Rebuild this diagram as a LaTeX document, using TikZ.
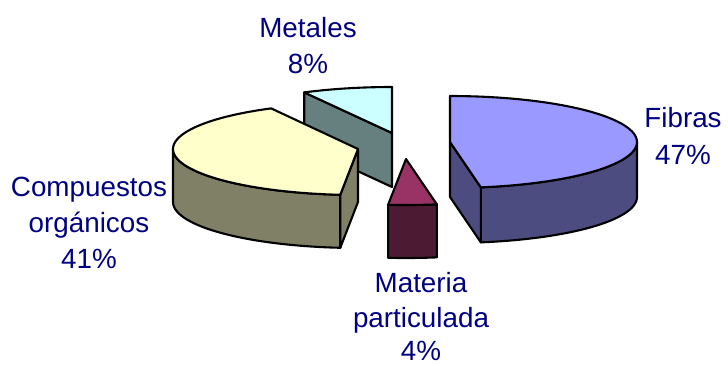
\documentclass[tikz,border=0pt]{standalone}
\usepackage{fontspec}
\setmainfont{Liberation Sans}
\definecolor{txtblue}{HTML}{000080}
\definecolor{fibT}{HTML}{9999FF}
\definecolor{fibS}{HTML}{4C4C80}
\definecolor{matT}{HTML}{993366}
\definecolor{matS}{HTML}{4D1A33}
\definecolor{comT}{HTML}{FFFFCC}
\definecolor{comS}{HTML}{808066}
\definecolor{metT}{HTML}{CCFFFF}
\definecolor{metS}{HTML}{668080}
\begin{document}
\begin{tikzpicture}[x=1pt,y=-1pt,
  face/.style={draw=black,line width=2.1pt,line join=round},
  lbl/.style={text=txtblue,anchor=base,inner sep=0pt,font=\fontsize{27.8}{36}\selectfont}]
\useasboundingbox (0,0) rectangle (728,365);
% ---------- Metales ----------
\def\cx{392}\def\cy{133}\def\rx{187}\def\ry{46}\def\dd{54}
\coordinate (metC) at (\cx,\cy);
\filldraw[face,fill=metS] ({\cx+\rx*cos(242)},{\cy+\ry*sin(242)}) -- (\cx,\cy) -- (\cx,\cy+\dd) -- ({\cx+\rx*cos(242)},{\cy+\dd+\ry*sin(242)}) -- cycle;
\filldraw[face,fill=metT] (\cx,\cy) -- plot[domain=242:270,samples=20] ({\cx+\rx*cos(\x)},{\cy+\ry*sin(\x)}) -- cycle;
% ---------- Compuestos organicos ----------
\def\cx{358}\def\cy{149}\def\rx{185}\def\ry{46}\def\dd{53}
\coordinate (comC) at (\cx,\cy);
\filldraw[face,fill=comS] plot[domain=95.5:180,samples=40] ({\cx+\rx*cos(\x)},{\cy+\ry*sin(\x)}) -- plot[domain=180:95.5,samples=40] ({\cx+\rx*cos(\x)},{\cy+\dd+\ry*sin(\x)}) -- cycle;
\filldraw[face,fill=comS] (\cx,\cy) -- ({\cx+\rx*cos(95.5)},{\cy+\ry*sin(95.5)}) -- ({\cx+\rx*cos(95.5)},{\cy+\dd+\ry*sin(95.5)}) -- (\cx,\cy+\dd) -- cycle;
\filldraw[face,fill=comT] (\cx,\cy) -- plot[domain=95.5:242,samples=60] ({\cx+\rx*cos(\x)},{\cy+\ry*sin(\x)}) -- cycle;
% ---------- Materia particulada ----------
\def\cx{406}\def\cy{159}\def\rx{187}\def\ry{46}\def\dd{53}
\coordinate (matC) at (\cx,\cy);
\filldraw[face,fill=matS] plot[domain=80.5:95.5,samples=10] ({\cx+\rx*cos(\x)},{\cy+\ry*sin(\x)}) -- plot[domain=95.5:80.5,samples=10] ({\cx+\rx*cos(\x)},{\cy+\dd+\ry*sin(\x)}) -- cycle;
\filldraw[face,fill=matT] (\cx,\cy) -- plot[domain=80.5:95.5,samples=10] ({\cx+\rx*cos(\x)},{\cy+\ry*sin(\x)}) -- cycle;
% ---------- Fibras ----------
\def\cx{450}\def\cy{142}\def\rx{187}\def\ry{46}\def\dd{55}
\coordinate (fibC) at (\cx,\cy);
\filldraw[face,fill=fibS] plot[domain=0:80.5,samples=40] ({\cx+\rx*cos(\x)},{\cy+\ry*sin(\x)}) -- plot[domain=80.5:0,samples=40] ({\cx+\rx*cos(\x)},{\cy+\dd+\ry*sin(\x)}) -- cycle;
\filldraw[face,fill=fibS] (\cx,\cy) -- ({\cx+\rx*cos(80.5)},{\cy+\ry*sin(80.5)}) -- ({\cx+\rx*cos(80.5)},{\cy+\dd+\ry*sin(80.5)}) -- (\cx,\cy+\dd) -- cycle;
\filldraw[face,fill=fibT] (\cx,\cy) -- plot[domain=-90:80.5,samples=70] ({\cx+\rx*cos(\x)},{\cy+\ry*sin(\x)}) -- cycle;
% ---------- Labels ----------
\node[lbl] (met1) at (308,37) {Metales};
\node[lbl] (met2) at (308,73) {8\%};
\node[lbl] (com1) at (89,196) {Compuestos};
\node[lbl] (com2) at (89,232) {orgánicos};
\node[lbl] (com3) at (89,268) {41\%};
\node[lbl] (mat1) at (421,292) {Materia};
\node[lbl] (mat2) at (421,327) {particulada};
\node[lbl] (mat3) at (421,360) {4\%};
\node[lbl] (fib1) at (683,127) {Fibras};
\node[lbl] (fib2) at (683,164) {47\%};
\end{tikzpicture}
\end{document}
